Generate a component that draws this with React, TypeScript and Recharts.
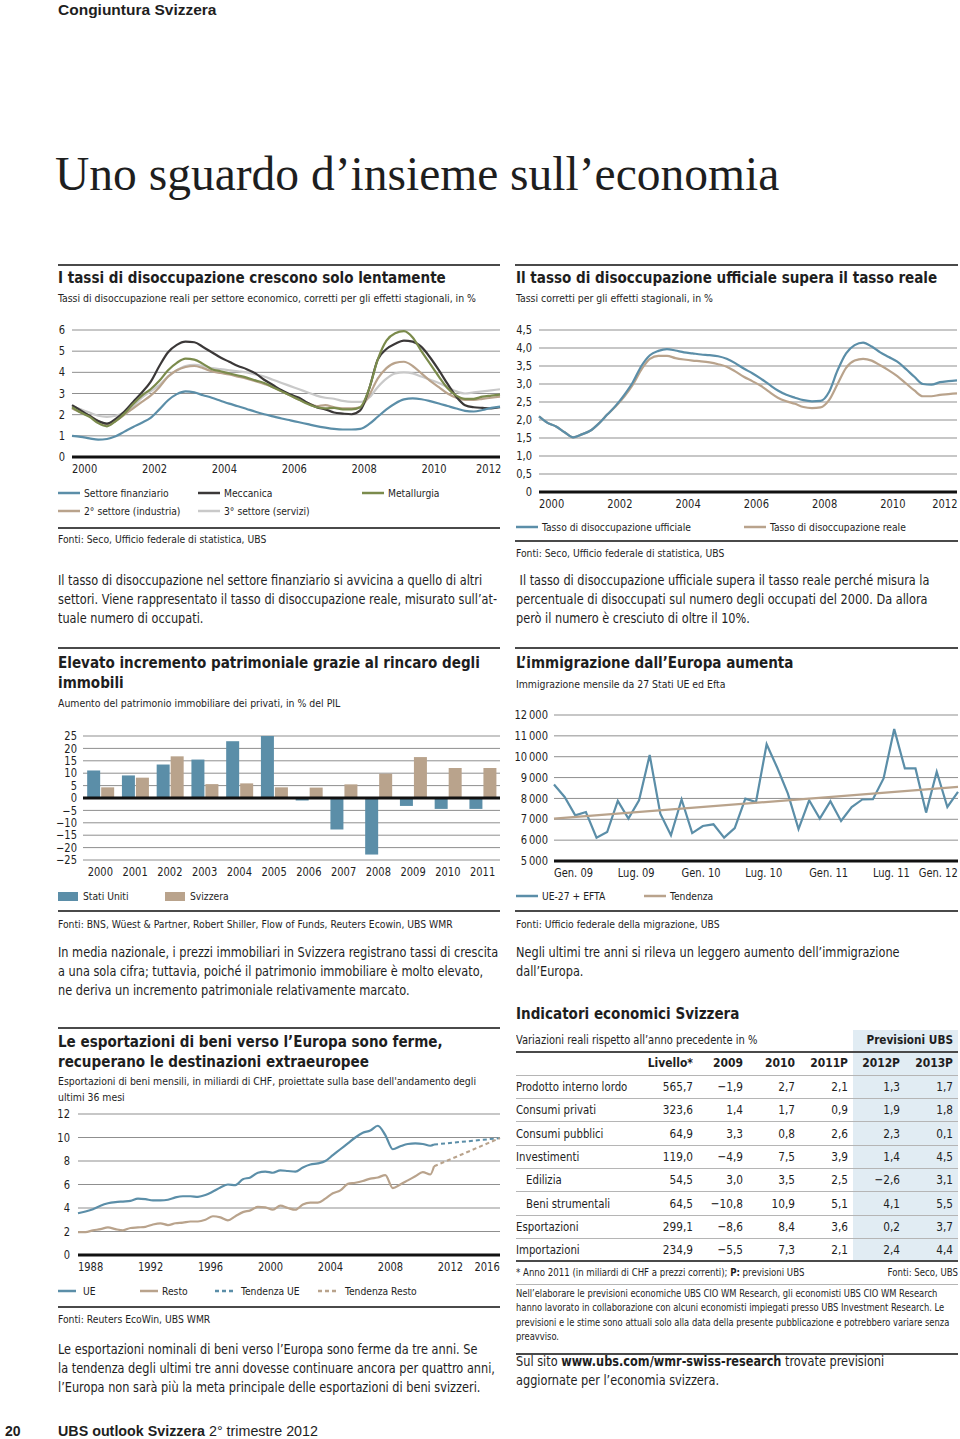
import React from "react";
import { LineChart, Line, BarChart, Bar, XAxis, YAxis, CartesianGrid, ReferenceLine } from "recharts";

const COND = "'Liberation Sans Narrow', 'DejaVu Sans Condensed', 'Arial Narrow', sans-serif";
const SANS = "'Liberation Sans', Arial, sans-serif";
const SERIF = "'Liberation Serif', 'Times New Roman', serif";
const TXT = "#1e1e1e";
const GRID = "#8f8f8f";
const BLUE = "#5b8ea8";
const TAN = "#b9a38c";
const DARK = "#3b3838";
const GREEN = "#7b8b4c";
const LGRAY = "#c9c9c9";

// ---------- Chart 1: tassi di disoccupazione per settore ----------
const quarters = [
  2000, 2000.25, 2000.5, 2000.75, 2001, 2001.25, 2001.5, 2001.75,
  2002, 2002.25, 2002.5, 2002.75, 2003, 2003.25, 2003.5, 2003.75,
  2004, 2004.25, 2004.5, 2004.75, 2005, 2005.25, 2005.5, 2005.75,
  2006, 2006.25, 2006.5, 2006.75, 2007, 2007.25, 2007.5, 2007.75,
  2008, 2008.25, 2008.5, 2008.75, 2009, 2009.25, 2009.5, 2009.75,
  2010, 2010.25, 2010.5, 2010.75, 2011, 2011.25, 2011.5, 2011.75,
  2012, 2012.25,
];
const finanziario = [
  1.0, 0.95, 0.88, 0.82, 0.85, 0.98, 1.2, 1.42,
  1.62, 1.85, 2.25, 2.68, 2.97, 3.1, 3.05, 2.92,
  2.8, 2.66, 2.52, 2.4, 2.27, 2.14, 2.02, 1.92,
  1.82, 1.73, 1.64, 1.55, 1.46, 1.39, 1.33, 1.3,
  1.3, 1.33, 1.55, 1.9, 2.25, 2.53, 2.72, 2.77,
  2.73, 2.64, 2.53, 2.41, 2.29, 2.18, 2.15, 2.22,
  2.32, 2.38,
];
const meccanica = [
  2.45, 2.2, 1.95, 1.7, 1.58, 1.8, 2.15, 2.6,
  3.05, 3.55, 4.3, 4.95, 5.3, 5.45, 5.42, 5.2,
  4.95, 4.7, 4.5, 4.3, 4.15, 3.95, 3.65, 3.4,
  3.15, 2.95, 2.8, 2.55, 2.35, 2.25, 2.1, 2.05,
  2.02, 2.2, 3.2, 4.6, 5.1, 5.35, 5.5, 5.45,
  5.2, 4.7, 4.1, 3.45, 2.85, 2.45, 2.35, 2.32,
  2.3, 2.35,
];
const metallurgia = [
  2.35, 2.1, 1.9, 1.6, 1.45, 1.7, 2.05, 2.5,
  2.9, 3.2, 3.6, 4.1, 4.45, 4.65, 4.6, 4.4,
  4.15, 4.05, 3.95, 3.85, 3.75, 3.62, 3.5, 3.3,
  3.1, 2.9, 2.7, 2.5, 2.35, 2.3, 2.32, 2.25,
  2.25, 2.35, 3.2, 4.6, 5.5, 5.85, 5.95, 5.65,
  5.0, 4.4, 3.8, 3.25, 2.9, 2.75, 2.75, 2.85,
  2.9, 2.95,
];
const secondario = [
  2.3, 2.1, 1.95, 1.7, 1.55, 1.7, 2.0, 2.3,
  2.6, 2.9, 3.3, 3.8, 4.1, 4.25, 4.3, 4.2,
  4.05, 3.97, 3.9, 3.8, 3.7, 3.58, 3.45, 3.3,
  3.1, 2.9, 2.7, 2.55, 2.4, 2.45, 2.35, 2.3,
  2.3, 2.35, 2.9, 3.7, 4.2, 4.45, 4.5, 4.3,
  3.95, 3.6, 3.3, 3.0, 2.8, 2.7, 2.7, 2.75,
  2.8, 2.85,
];
const terziario = [
  2.4, 2.25, 2.1, 1.95, 1.9, 1.95, 2.1, 2.4,
  2.8, 3.1, 3.4, 3.8, 4.1, 4.3, 4.35, 4.3,
  4.2, 4.15, 4.1, 4.05, 4.0, 3.9, 3.8, 3.65,
  3.5, 3.35, 3.2, 3.05, 2.9, 2.8, 2.75, 2.65,
  2.6, 2.6, 2.8, 3.3, 3.7, 3.95, 4.0, 3.95,
  3.8, 3.65, 3.5, 3.3, 3.1, 3.0, 3.05, 3.1,
  3.15, 3.2,
];
const yearTicks = [2000, 2002, 2004, 2006, 2008, 2010, 2012];
const c1YTicks = [0, 1, 2, 3, 4, 5, 6];

// ---------- Chart 2: ufficiale vs reale ----------
const ufficiale = [
  2.1, 1.92, 1.82, 1.66, 1.52, 1.6, 1.7, 1.9,
  2.15, 2.4, 2.7, 3.05, 3.5, 3.8, 3.92, 3.97,
  3.93, 3.88, 3.85, 3.82, 3.8, 3.77, 3.7, 3.58,
  3.43, 3.3, 3.15, 2.98, 2.82, 2.7, 2.62, 2.55,
  2.52, 2.53, 2.78, 3.38, 3.85, 4.08, 4.15, 4.04,
  3.88, 3.75, 3.62, 3.42, 3.2, 3.0, 2.98, 3.05,
  3.08, 3.1,
];
const reale = [
  2.1, 1.92, 1.82, 1.66, 1.52, 1.6, 1.7, 1.9,
  2.15, 2.38, 2.65, 2.98, 3.4, 3.7, 3.78, 3.78,
  3.72, 3.68, 3.65, 3.63, 3.6, 3.55, 3.48, 3.35,
  3.2, 3.08, 2.95, 2.78, 2.62, 2.52, 2.45, 2.36,
  2.33, 2.35, 2.55, 3.0, 3.45, 3.65, 3.7, 3.65,
  3.52, 3.38, 3.22, 3.02, 2.82, 2.66, 2.66, 2.7,
  2.72, 2.74,
];
const c2YTicks = [0, 0.5, 1, 1.5, 2, 2.5, 3, 3.5, 4, 4.5];

// ---------- Chart 3: incremento patrimoniale ----------
const barYears = ["2000", "2001", "2002", "2003", "2004", "2005", "2006", "2007", "2008", "2009", "2010", "2011"];
const statiUniti = [11.1, 9.1, 13.5, 15.5, 22.9, 25.0, -1.0, -12.7, -22.8, -3.2, -4.4, -4.4];
const svizzera = [4.3, 8.2, 16.8, 5.6, 5.9, 4.3, 4.2, 5.5, 9.8, 16.5, 12.1, 12.1];
const c3YTicks = [-25, -20, -15, -10, -5, 0, 5, 10, 15, 20, 25];

// ---------- Chart 4: immigrazione ----------
const immigrazione = [
  8670, 8070, 7190, 7350, 6120, 6390, 7880, 7030, 7910, 10080,
  7270, 6230, 7950, 6340, 6680, 6760, 6120, 6580, 7990, 7830,
  10600, 9470, 8230, 6530, 7910, 7030, 7870, 6920, 7590, 7950,
  7960, 8960, 11330, 9440, 9440, 7320, 9280, 7590, 8310,
];
const immTrendMonths = [0, 38];
const immTrendValues = [7030, 8555];
const monthTicks = [0, 6, 12, 18, 24, 30, 36];
const monthLabels = ["Gen. 09", "Lug. 09", "Gen. 10", "Lug. 10", "Gen. 11", "Lug. 11", "Gen. 12"];
const c4YTicks = [5000, 6000, 7000, 8000, 9000, 10000, 11000, 12000];

// ---------- Chart 5: esportazioni ----------
const exportYears = [
  1988, 1988.5, 1989, 1989.5, 1990, 1990.5, 1991, 1991.5, 1992, 1992.5,
  1993, 1993.5, 1994, 1994.5, 1995, 1995.5, 1996, 1996.5, 1997, 1997.5,
  1998, 1998.5, 1999, 1999.5, 2000, 2000.5, 2001, 2001.5, 2002, 2002.5,
  2003, 2003.5, 2004, 2004.5, 2005, 2005.5, 2006, 2006.5, 2007, 2007.5,
  2008, 2008.5, 2009, 2009.5, 2010, 2010.5, 2011, 2011.5, 2011.75,
];
const exportUE = [
  3.55, 3.7, 3.9, 4.2, 4.4, 4.5, 4.55, 4.6, 4.8, 4.75,
  4.65, 4.65, 4.7, 4.9, 5.0, 5.0, 4.95, 5.1, 5.4, 5.75,
  6.0, 5.95, 6.45, 6.6, 7.0, 7.1, 7.0, 7.2, 7.15, 7.1,
  7.45, 7.7, 7.8, 8.0, 8.5, 9.0, 9.5, 10.0, 10.4, 10.6,
  11.0, 10.2, 9.0, 9.25, 9.45, 9.5, 9.45, 9.3, 9.4,
];
const exportResto = [
  1.95, 1.95, 2.1, 2.2, 2.35, 2.2, 2.1, 2.3, 2.35, 2.4,
  2.6, 2.7, 2.55, 2.7, 2.75, 2.85, 2.85, 3.0, 3.3, 3.2,
  2.95, 3.3, 3.65, 3.8, 4.1, 4.05, 3.85, 4.2, 4.0, 3.85,
  4.3, 4.45, 4.45, 4.8, 5.25, 5.5, 6.05, 6.15, 6.3, 6.5,
  6.6, 6.8, 5.7, 6.0, 6.35, 6.7, 7.05, 6.85, 7.55,
];
const trendYears = [2011.75, 2016.15];
const trendUE = [9.4, 9.95];
const trendResto = [7.55, 9.95];
const exportTicks = [1988, 1992, 1996, 2000, 2004, 2008, 2012, 2016];
const c5YTicks = [0, 2, 4, 6, 8, 10, 12];

// ---------- Table ----------
const tableRows = ["Prodotto interno lordo", "Consumi privati", "Consumi pubblici", "Investimenti", "Edilizia", "Beni strumentali", "Esportazioni", "Importazioni"];
const tableIndent = [false, false, false, false, true, true, false, false];
const tableHeaders = ["Livello*", "2009", "2010", "2011P", "2012P", "2013P"];
const livello = [565.7, 323.6, 64.9, 119.0, 54.5, 64.5, 299.1, 234.9];
const v2009 = [-1.9, 1.4, 3.3, -4.9, 3.0, -10.8, -8.6, -5.5];
const v2010 = [2.7, 1.7, 0.8, 7.5, 3.5, 10.9, 8.4, 7.3];
const v2011 = [2.1, 0.9, 2.6, 3.9, 2.5, 5.1, 3.6, 2.1];
const v2012 = [1.3, 1.9, 2.3, 1.4, -2.6, 4.1, 0.2, 2.4];
const v2013 = [1.7, 1.8, 0.1, 4.5, 3.1, 5.5, 3.7, 4.4];

// ---------- helpers ----------
const fmtDec = (v: number) => (v < 0 ? "\u2212" : "") + Math.abs(v).toFixed(1).replace(".", ",");
const TICK_SIZE = 12;
const TICK_SX = 0.92;

function TickText({ x, y, anchor, label }: any) {
  return (
    <g transform={`translate(${x},${y}) scale(${TICK_SX},1)`}>
      <text x={0} y={0} textAnchor={anchor} dominantBaseline="central" fontFamily={COND} fontSize={TICK_SIZE} fill={TXT}>
        {label}
      </text>
    </g>
  );
}

const makeXTick = (mode: "start" | "middle", lastValue: any, lastDx: number, fmt?: (v: any) => string) => (props: any) => {
  const { x, y, payload } = props;
  const isLast = payload.value === lastValue;
  const anchor = mode === "middle" ? "middle" : isLast ? "end" : "start";
  const label = fmt ? fmt(payload.value) : payload.value;
  return <TickText x={x + (isLast && mode === "start" ? lastDx : 0)} y={y + 12} anchor={anchor} label={label} />;
};
const makeYTick = (gap: number, fmt: (v: number) => string) => (props: any) => {
  const { x, y, payload } = props;
  return <TickText x={x - gap} y={y} anchor="end" label={fmt(payload.value)} />;
};

function T({ x, y, size = 13.2, sx = 1, bold = false, font = COND, color = TXT, lh, children, align, width }: any) {
  const L = lh ?? Math.round(size * 1.4);
  return (
    <div style={{
      position: "absolute", left: x, top: y - L / 2, fontFamily: font, fontSize: size, fontWeight: bold ? 700 : 400,
      lineHeight: L + "px", color, whiteSpace: "pre", textAlign: align, width,
      transform: sx !== 1 ? `scaleX(${sx})` : undefined, transformOrigin: align === "right" ? "100% 50%" : "0 50%",
    }}>{children}</div>
  );
}
const Title = (p: any) => <T size={16} sx={0.94} bold lh={20} {...p} />;
const Sub = (p: any) => <T size={11} sx={0.945} {...p} />;
const Body = (p: any) => <T size={13.2} sx={0.955} lh={19} {...p} />;
const Src = (p: any) => <T size={11} sx={0.935} {...p} />;

function Rule({ x, y, w, h = 1.5, color = "#4a4a4a" }: any) {
  return <div style={{ position: "absolute", left: x, top: y - h / 2, width: w, height: h, background: color }} />;
}
function LegLine({ x, y, color, label, dash, w = 22, gap = 4 }: any) {
  return (
    <>
      <svg style={{ position: "absolute", left: x, top: y - 3 }} width={w} height={6}>
        <line x1={0} y1={3} x2={w} y2={3} stroke={color} strokeWidth={2.5} strokeDasharray={dash} />
      </svg>
      <T x={x + w + gap} y={y} size={11} sx={0.93}>{label}</T>
    </>
  );
}
function LegBox({ x, y, color, label }: any) {
  return (
    <>
      <div style={{ position: "absolute", left: x, top: y - 4.5, width: 20, height: 9, background: color }} />
      <T x={x + 25} y={y} size={11} sx={0.93}>{label}</T>
    </>
  );
}

export default function App() {
  const c1Data = quarters.map((q, i) => ({
    t: q, fin: finanziario[i], mec: meccanica[i], met: metallurgia[i], sec: secondario[i], ter: terziario[i],
  }));
  const c2Data = quarters.map((q, i) => ({ t: q, uff: ufficiale[i], rea: reale[i] }));
  const c3Data = barYears.map((y, i) => ({ year: y, us: statiUniti[i], ch: svizzera[i] }));
  const c4Data = immigrazione.map((v, i) => ({ m: i, v }));
  const c4Trend = immTrendMonths.map((m, i) => ({ m, tr: immTrendValues[i] }));
  const c5Data = exportYears.map((t, i) => ({ t, ue: exportUE[i], re: exportResto[i] }));
  const c5TrendUE = trendYears.map((t, i) => ({ t, tue: trendUE[i] }));
  const c5TrendRe = trendYears.map((t, i) => ({ t, tre: trendResto[i] }));

  const colRights = [693, 743, 795, 848, 900, 953];
  const colVals = [livello.map((v) => v.toFixed(1).replace(".", ",")), v2009.map(fmtDec), v2010.map(fmtDec), v2011.map(fmtDec), v2012.map(fmtDec), v2013.map(fmtDec)];
  const rowY = (i: number) => 1087 + i * 23.3;

  return (
    <div style={{ position: "absolute", left: 0, top: 0, width: 960, height: 1439, background: "#fff", overflow: "hidden" }}>
      {/* header */}
      <T x={58} y={10} size={15.5} bold font={SANS}>Congiuntura Svizzera</T>
      <T x={55} y={174} size={47.5} font={SERIF} lh={58}>Uno sguardo d’insieme sull’economia</T>

      {/* Section 1 */}
      <Rule x={58} y={265} w={442} />
      <Title x={58} y={278}>I tassi di disoccupazione crescono solo lentamente</Title>
      <Sub x={58} y={298}>Tassi di disoccupazione reali per settore economico, corretti per gli effetti stagionali, in %</Sub>
      <div style={{ position: "absolute", left: 40, top: 320 }}>
        <LineChart width={465} height={165} data={c1Data} margin={{ top: 10, right: 5, left: 0, bottom: 8 }}>
          <CartesianGrid vertical={false} stroke={GRID} />
          <XAxis dataKey="t" type="number" domain={[2000, 2012.25]} ticks={yearTicks} interval={0} height={20}
            axisLine={false} tickLine={false} tickSize={0} tickMargin={0} tick={makeXTick("start", 2012, 10)} />
          <YAxis type="number" domain={[0, 6]} ticks={c1YTicks} interval={0} width={32}
            axisLine={false} tickLine={false} tickSize={0} tickMargin={0} tick={makeYTick(7, (v) => String(v))} />
          <ReferenceLine y={0} stroke="#111" strokeWidth={3} />
          <Line dataKey="ter" type="monotone" stroke={LGRAY} strokeWidth={2.2} dot={false} isAnimationActive={false} />
          <Line dataKey="sec" type="monotone" stroke={TAN} strokeWidth={2.2} dot={false} isAnimationActive={false} />
          <Line dataKey="mec" type="monotone" stroke={DARK} strokeWidth={2.2} dot={false} isAnimationActive={false} />
          <Line dataKey="met" type="monotone" stroke={GREEN} strokeWidth={2.2} dot={false} isAnimationActive={false} />
          <Line dataKey="fin" type="monotone" stroke={BLUE} strokeWidth={2.2} dot={false} isAnimationActive={false} />
        </LineChart>
      </div>
      <LegLine x={58} y={493} color={BLUE} label="Settore finanziario" />
      <LegLine x={198} y={493} color={DARK} label="Meccanica" />
      <LegLine x={362} y={493} color={GREEN} label="Metallurgia" />
      <LegLine x={58} y={511} color={TAN} label="2° settore (industria)" />
      <LegLine x={198} y={511} color={LGRAY} label="3° settore (servizi)" />
      <Rule x={58} y={528} w={442} />
      <Src x={58} y={539}>Fonti: Seco, Ufficio federale di statistica, UBS</Src>
      <Body x={58} y={580}>{"Il tasso di disoccupazione nel settore finanziario si avvicina a quello di altri\nsettori. Viene rappresentato il tasso di disoccupazione reale, misurato sull’at-\ntuale numero di occupati."}</Body>

      {/* Section 2 */}
      <Rule x={515} y={265} w={443} />
      <Title x={516} y={278}>Il tasso di disoccupazione ufficiale supera il tasso reale</Title>
      <Sub x={516} y={298}>Tassi corretti per gli effetti stagionali, in %</Sub>
      <div style={{ position: "absolute", left: 505, top: 320 }}>
        <LineChart width={455} height={195} data={c2Data} margin={{ top: 10, right: 3, left: 0, bottom: 3 }}>
          <CartesianGrid vertical={false} stroke={GRID} />
          <XAxis dataKey="t" type="number" domain={[2000, 2012.25]} ticks={yearTicks} interval={0} height={20}
            axisLine={false} tickLine={false} tickSize={0} tickMargin={0} tick={makeXTick("start", 2012, 9)} />
          <YAxis type="number" domain={[0, 4.5]} ticks={c2YTicks} interval={0} width={34}
            axisLine={false} tickLine={false} tickSize={0} tickMargin={0}
            tick={makeYTick(7, (v) => (v === 0 ? "0" : v.toFixed(1).replace(".", ",")))} />
          <ReferenceLine y={0} stroke="#111" strokeWidth={3} />
          <Line dataKey="rea" type="monotone" stroke={TAN} strokeWidth={2.2} dot={false} isAnimationActive={false} />
          <Line dataKey="uff" type="monotone" stroke={BLUE} strokeWidth={2.2} dot={false} isAnimationActive={false} />
        </LineChart>
      </div>
      <LegLine x={516} y={527} color={BLUE} label="Tasso di disoccupazione ufficiale" />
      <LegLine x={744} y={527} color={TAN} label="Tasso di disoccupazione reale" />
      <Rule x={515} y={541} w={443} />
      <Src x={516} y={553}>Fonti: Seco, Ufficio federale di statistica, UBS</Src>
      <Body x={516} y={580}>{" Il tasso di disoccupazione ufficiale supera il tasso reale perché misura la\npercentuale di disoccupati sul numero degli occupati del 2000. Da allora\nperò il numero è cresciuto di oltre il 10%."}</Body>

      {/* Section 3 */}
      <Rule x={58} y={648} w={442} />
      <Title x={58} y={663}>{"Elevato incremento patrimoniale grazie al rincaro degli\nimmobili"}</Title>
      <Sub x={58} y={703}>Aumento del patrimonio immobiliare dei privati, in % del PIL</Sub>
      <div style={{ position: "absolute", left: 40, top: 725 }}>
        <BarChart width={465} height={160} data={c3Data} margin={{ top: 11, right: 5, left: 0, bottom: 5 }}
          barCategoryGap="12%" barGap={1}>
          <CartesianGrid vertical={false} stroke={GRID} />
          <XAxis dataKey="year" interval={0} height={20} axisLine={false} tickLine={false} tickSize={0} tickMargin={0}
            tick={makeXTick("middle", null, 0)} />
          <YAxis type="number" domain={[-25, 25]} ticks={c3YTicks} interval={0} width={43}
            axisLine={false} tickLine={false} tickSize={0} tickMargin={0}
            tick={makeYTick(6, (v) => (v < 0 ? "\u2212" + Math.abs(v) : String(v)))} />
          <Bar dataKey="us" fill={BLUE} isAnimationActive={false} />
          <Bar dataKey="ch" fill={TAN} isAnimationActive={false} />
          <ReferenceLine y={0} stroke="#111" strokeWidth={3} />
        </BarChart>
      </div>
      <LegBox x={58} y={896} color={BLUE} label="Stati Uniti" />
      <LegBox x={165} y={896} color={TAN} label="Svizzera" />
      <Rule x={58} y={911} w={442} />
      <Src x={58} y={924}>Fonti: BNS, Wüest &amp; Partner, Robert Shiller, Flow of Funds, Reuters Ecowin, UBS WMR</Src>
      <Body x={58} y={952}>{"In media nazionale, i prezzi immobiliari in Svizzera registrano tassi di crescita\na una sola cifra; tuttavia, poiché il patrimonio immobiliare è molto elevato,\nne deriva un incremento patrimoniale relativamente marcato."}</Body>

      {/* Section 4 */}
      <Rule x={515} y={648} w={443} />
      <Title x={516} y={663}>L’immigrazione dall’Europa aumenta</Title>
      <Sub x={516} y={684}>Immigrazione mensile da 27 Stati UE ed Efta</Sub>
      <div style={{ position: "absolute", left: 505, top: 705 }}>
        <LineChart width={455} height={180} margin={{ top: 10, right: 2, left: 0, bottom: 4 }}>
          <CartesianGrid vertical={false} stroke={GRID} />
          <XAxis dataKey="m" type="number" domain={[0, 38]} ticks={monthTicks} interval={0} height={20}
            axisLine={false} tickLine={false} tickSize={0} tickMargin={0} allowDuplicatedCategory={false}
            tick={makeXTick("start", 36, 21, (v) => monthLabels[monthTicks.indexOf(v)])} />
          <YAxis type="number" domain={[5000, 12000]} ticks={c4YTicks} interval={0} width={49}
            axisLine={false} tickLine={false} tickSize={0} tickMargin={0}
            tick={makeYTick(6, (v) => String(v).replace(/\B(?=(\d{3})+(?!\d))/g, "\u2009"))} />
          <ReferenceLine y={5000} stroke="#111" strokeWidth={3} />
          <Line data={c4Data} dataKey="v" type="linear" stroke={BLUE} strokeWidth={2.2} dot={false} isAnimationActive={false} />
          <Line data={c4Trend} dataKey="tr" type="linear" stroke={TAN} strokeWidth={2.2} dot={false} isAnimationActive={false} />
        </LineChart>
      </div>
      <LegLine x={516} y={896} color={BLUE} label="UE-27 + EFTA" />
      <LegLine x={644} y={896} color={TAN} label="Tendenza" />
      <Rule x={515} y={911} w={443} />
      <Src x={516} y={924}>Fonti: Ufficio federale della migrazione, UBS</Src>
      <Body x={516} y={952}>{"Negli ultimi tre anni si rileva un leggero aumento dell’immigrazione\ndall’Europa."}</Body>

      {/* Section 5 */}
      <Rule x={58} y={1028} w={442} />
      <Title x={58} y={1042}>{"Le esportazioni di beni verso l’Europa sono ferme,\nrecuperano le destinazioni extraeuropee"}</Title>
      <Sub x={58} y={1082} lh={16}>{"Esportazioni di beni mensili, in miliardi di CHF, proiettate sulla base dell'andamento degli\nultimi 36 mesi"}</Sub>
      <div style={{ position: "absolute", left: 40, top: 1104 }}>
        <LineChart width={465} height={175} margin={{ top: 10, right: 5, left: 0, bottom: 4 }}>
          <CartesianGrid vertical={false} stroke={GRID} />
          <XAxis dataKey="t" type="number" domain={[1988, 2016.15]} ticks={exportTicks} interval={0} height={20}
            axisLine={false} tickLine={false} tickSize={0} tickMargin={0} allowDuplicatedCategory={false}
            tick={makeXTick("start", 2016, 2)} />
          <YAxis type="number" domain={[0, 12]} ticks={c5YTicks} interval={0} width={38}
            axisLine={false} tickLine={false} tickSize={0} tickMargin={0} tick={makeYTick(8, (v) => String(v))} />
          <ReferenceLine y={0} stroke="#111" strokeWidth={3} />
          <Line data={c5Data} dataKey="re" type="monotone" stroke={TAN} strokeWidth={2.2} dot={false} isAnimationActive={false} />
          <Line data={c5Data} dataKey="ue" type="monotone" stroke={BLUE} strokeWidth={2.2} dot={false} isAnimationActive={false} />
          <Line data={c5TrendUE} dataKey="tue" type="linear" stroke={BLUE} strokeWidth={2} strokeDasharray="4 3" dot={false} isAnimationActive={false} />
          <Line data={c5TrendRe} dataKey="tre" type="linear" stroke={TAN} strokeWidth={2} strokeDasharray="4 3" dot={false} isAnimationActive={false} />
        </LineChart>
      </div>
      <LegLine x={58} y={1291} color={BLUE} label="UE" w={18} gap={7} />
      <LegLine x={140} y={1291} color={TAN} label="Resto" w={18} gap={4} />
      <LegLine x={215} y={1291} color={BLUE} label="Tendenza UE" w={20} gap={6} dash="4 3" />
      <LegLine x={318} y={1291} color={TAN} label="Tendenza Resto" w={20} gap={7} dash="4 3" />
      <Rule x={58} y={1307} w={442} />
      <Src x={58} y={1319}>Fonti: Reuters EcoWin, UBS WMR</Src>
      <Body x={58} y={1349}>{"Le esportazioni nominali di beni verso l’Europa sono ferme da tre anni. Se\nla tendenza degli ultimi tre anni dovesse continuare ancora per quattro anni,\nl’Europa non sarà più la meta principale delle esportazioni di beni svizzeri."}</Body>

      {/* Section 6: table */}
      <Title x={516} y={1014}>Indicatori economici Svizzera</Title>
      <div style={{ position: "absolute", left: 853, top: 1030, width: 105, height: 231, background: "#e1ecf3" }} />
      <T x={516} y={1040} size={12} sx={0.92}>Variazioni reali rispetto all’anno precedente in %</T>
      <T x={753} y={1040} size={13} sx={0.9} bold width={200} align="right">Previsioni UBS</T>
      <Rule x={516} y={1052} w={442} h={1.5} />
      {tableHeaders.map((h, j) => (
        <T key={h} x={colRights[j] - 80} y={1063} size={13} sx={0.92} bold width={80} align="right">{h}</T>
      ))}
      {tableRows.map((r, i) => (
        <React.Fragment key={r}>
          <Rule x={516} y={rowY(i) - 11.7} w={442} h={1} color="#b5b5b5" />
          <T x={tableIndent[i] ? 526 : 516} y={rowY(i)} size={13} sx={0.87}>{r}</T>
          {colVals.map((col, j) => (
            <T key={j} x={colRights[j] - 80} y={rowY(i)} size={13} sx={0.9} width={80} align="right">{col[i]}</T>
          ))}
        </React.Fragment>
      ))}
      <Rule x={516} y={1261} w={442} h={1.5} />
      <T x={516} y={1272} size={10.5} sx={0.91}>* Anno 2011 (in miliardi di CHF a prezzi correnti); <b>P:</b> previsioni UBS</T>
      <T x={758} y={1272} size={10.5} sx={0.91} width={200} align="right">Fonti: Seco, UBS</T>
      <Rule x={516} y={1284} w={442} h={1} color="#b5b5b5" />
      <T x={516} y={1293} size={10.5} sx={0.885} lh={14.6}>{"Nell’elaborare le previsioni economiche UBS CIO WM Research, gli economisti UBS CIO WM Research\nhanno lavorato in collaborazione con alcuni economisti impiegati presso UBS Investment Research. Le\nprevisioni e le stime sono attuali solo alla data della presente pubblicazione e potrebbero variare senza\npreavviso."}</T>
      <Rule x={516} y={1354} w={442} h={1.5} />
      <T x={516} y={1361} size={14} sx={0.9} lh={19}>Sul sito <b>www.ubs.com/wmr-swiss-research</b> trovate previsioni{"\n"}aggiornate per l’economia svizzera.</T>

      {/* footer */}
      <T x={5} y={1431} size={14} bold font={SANS}>20</T>
      <T x={58} y={1431} size={14.3} font={SANS}><b>UBS outlook Svizzera</b> 2° trimestre 2012</T>
    </div>
  );
}
